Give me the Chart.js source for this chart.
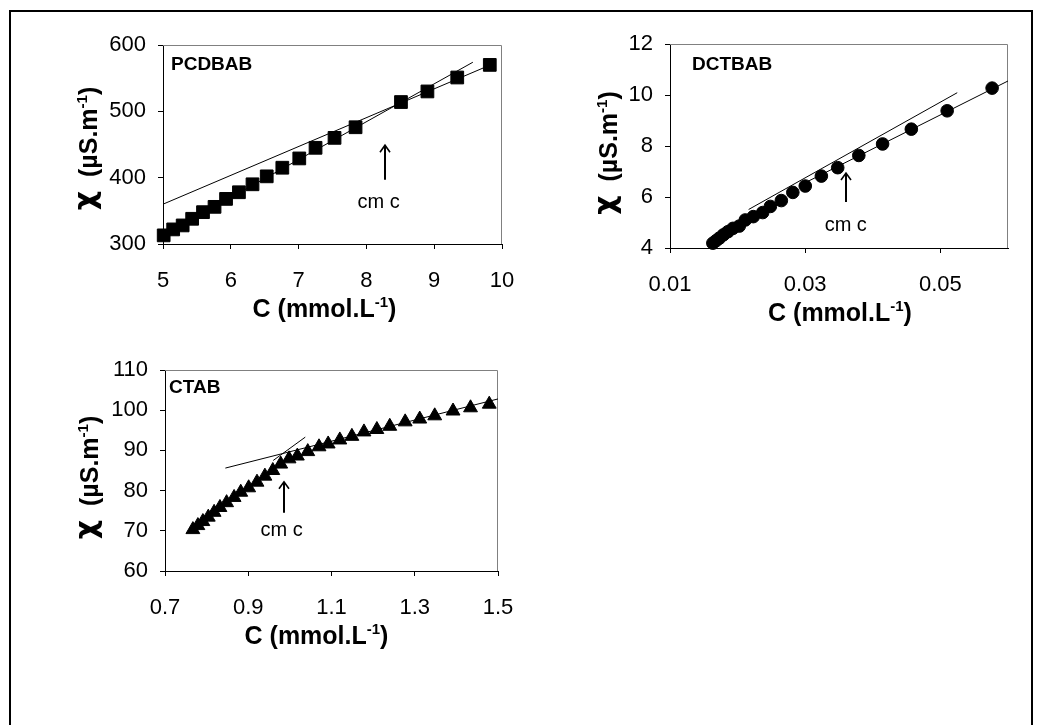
<!DOCTYPE html>
<html>
<head>
<meta charset="utf-8">
<script src="https://cdn.jsdelivr.net/npm/chart.js@4.4.0/dist/chart.umd.min.js"></script>
<style>
    html, body { margin: 0; padding: 0; background: #fff; }
    #page { position: relative; width: 1038px; height: 725px; overflow: hidden; background: #fff; }
    #frame { position: absolute; left: 9px; top: 10px; width: 1020px; height: 800px; border: 2px solid #000; }
    canvas { position: absolute; }
</style>
</head>
<body>
<div id="page">
    <div id="frame"></div>
    <canvas id="g-pcdbab" width="520" height="330" style="left:0;top:0"></canvas>
    <canvas id="g-dctbab" width="518" height="330" style="left:520px;top:0"></canvas>
    <canvas id="g-ctab" width="520" height="330" style="left:0;top:330px"></canvas>
</div>
<script>
// PCDBAB
var pcdC   = [5.01, 5.15, 5.29, 5.43, 5.59, 5.76, 5.93, 6.12, 6.32, 6.53, 6.76, 7.01, 7.25, 7.53, 7.84, 8.51, 8.90, 9.34, 9.82];
var pcdChi = [313, 322, 328, 338, 348, 356, 368, 378, 390, 402, 415, 429, 445, 460, 476, 514, 530, 551, 570];
var pcdPreC = [5.0, 9.57],  pcdPreChi = [313, 574];
var pcdPostC = [5.0, 9.83], pcdPostChi = [360, 570];
var pcdXTicks = [5, 6, 7, 8, 9, 10];
var pcdYTicks = [300, 400, 500, 600];
var pcdCmcX = 8.28, pcdArrowChi = [397, 449], pcdCmcText = [8.18, 363];

// DCTBAB
var dctC   = [0.01634, 0.01683, 0.01732, 0.01792, 0.01857, 0.01931, 0.02025, 0.02114, 0.02232, 0.02371, 0.02485,
              0.02647, 0.02817, 0.03001, 0.03239, 0.03481, 0.03793, 0.04145, 0.0457, 0.0510, 0.05765];
var dctChi = [4.19, 4.29, 4.39, 4.52, 4.64, 4.77, 4.86, 5.10, 5.23, 5.39, 5.63, 5.86, 6.18, 6.43, 6.82, 7.15,
              7.63, 8.08, 8.66, 9.38, 10.27];
var dctPreC = [0.02163, 0.05249], dctPreChi = [5.51, 10.09];
var dctPostC = [0.0300, 0.0600],  dctPostChi = [6.56, 10.55];
var dctXTicks = [0.01, 0.03, 0.05];
var dctYTicks = [4, 6, 8, 10, 12];
var dctCmcX = 0.0361, dctArrowChi = [5.80, 6.94], dctCmcText = [0.0360, 4.88];

// CTAB
var ctabC   = [0.767, 0.779, 0.791, 0.804, 0.818, 0.832, 0.848, 0.866, 0.882, 0.901, 0.921, 0.940, 0.959, 0.978, 0.998,
               1.018, 1.043, 1.070, 1.092, 1.120, 1.149, 1.178, 1.209, 1.240, 1.277, 1.312, 1.348, 1.392, 1.434, 1.479];
var ctabChi = [70.3, 71.3, 72.3, 73.4, 74.6, 75.8, 77.0, 78.3, 79.6, 80.7, 82.1, 83.6, 85.0, 86.6, 87.9,
               88.6, 89.7, 90.9, 91.6, 92.6, 93.5, 94.6, 95.2, 96.0, 97.1, 97.8, 98.6, 99.8, 100.6, 101.5];
var ctabPreC = [0.96, 1.037],  ctabPreChi = [87.5, 93.3];
var ctabPostC = [0.845, 1.5],  ctabPostChi = [85.6, 102.8];
var ctabXTicks = [0.7, 0.9, 1.1, 1.3, 1.5];
var ctabYTicks = [60, 70, 80, 90, 100, 110];
var ctabCmcX = 0.9856, ctabArrowChi = [74.5, 82.2], ctabCmcText = [0.98, 70.2];

(function () {
    'use strict';

    var FONT = '"Liberation Sans", Arial, Helvetica, sans-serif';

    function pairs(xs, ys) {
        return xs.map(function (x, i) { return { x: x, y: ys[i] }; });
    }

    // draws a run of text pieces (normal + superscript) centred on cx
    function drawRun(ctx, parts, cx, baseY) {
        var total = 0;
        parts.forEach(function (p) { ctx.font = p.font; p.w = ctx.measureText(p.t).width; total += p.w; });
        var x = cx - total / 2;
        ctx.textAlign = 'left';
        ctx.textBaseline = 'alphabetic';
        parts.forEach(function (p) {
            ctx.font = p.font;
            ctx.fillText(p.t, x, baseY + (p.dy || 0));
            x += p.w;
        });
    }

    var titleFont = 'bold 25px ' + FONT;
    var supFont = 'bold 15px ' + FONT;

    var decor = {
        id: 'decor',
        beforeDatasetsDraw: function (chart) {
            var a = chart.chartArea, ctx = chart.ctx;
            ctx.save();
            ctx.strokeStyle = '#808080';
            ctx.lineWidth = 1;
            ctx.beginPath();
            ctx.moveTo(a.left, a.top + 0.5);
            ctx.lineTo(a.right - 0.5, a.top + 0.5);
            ctx.lineTo(a.right - 0.5, a.bottom);
            ctx.stroke();
            ctx.restore();
        },
        afterDatasetsDraw: function (chart, args, o) {
            var ctx = chart.ctx, a = chart.chartArea;
            var xs = chart.scales.x, ys = chart.scales.y;
            ctx.save();
            ctx.fillStyle = '#000';
            ctx.strokeStyle = '#000';

            // sample name
            ctx.font = 'bold 19px ' + FONT;
            ctx.textAlign = 'left';
            ctx.textBaseline = 'middle';
            ctx.fillText(o.name, a.left + o.nameDx, a.top + o.nameDy);

            // cmc arrow + text
            var ax = Math.round(xs.getPixelForValue(o.cmcX));
            var yTail = ys.getPixelForValue(o.arrow[0]);
            var yTip = ys.getPixelForValue(o.arrow[1]);
            ctx.lineWidth = 2;
            ctx.beginPath();
            ctx.moveTo(ax, yTail);
            ctx.lineTo(ax, yTip + 1);
            ctx.stroke();
            ctx.lineWidth = 1.6;
            ctx.beginPath();
            ctx.moveTo(ax - 5, yTip + 7);
            ctx.lineTo(ax, yTip);
            ctx.lineTo(ax + 5, yTip + 7);
            ctx.stroke();
            ctx.font = '20px ' + FONT;
            ctx.textAlign = 'center';
            ctx.textBaseline = 'middle';
            ctx.fillText('cm c', xs.getPixelForValue(o.cmcText[0]), ys.getPixelForValue(o.cmcText[1]));

            // x title
            drawRun(ctx, [
                { t: 'C (mmol.L', font: titleFont },
                { t: '-1', font: supFont, dy: -10 },
                { t: ')', font: titleFont }
            ], (a.left + a.right) / 2 + o.xTitleDx, a.bottom + 73);

            // y title, rotated
            ctx.translate(o.yTitleX, (a.top + a.bottom) / 2 + o.yTitleDy);
            ctx.rotate(-Math.PI / 2);
            drawRun(ctx, [
                { t: '\u03c7', font: 'bold 30px "DejaVu Sans", sans-serif', dy: -2 },
                { t: '  (\u00b5S.m', font: titleFont },
                { t: '-1', font: supFont, dy: -10 },
                { t: ')', font: titleFont }
            ], 0, 0);
            ctx.restore();
        }
    };

    function makeChart(id, cfg) {
        var canvas = document.getElementById(id);
        var lineStyle = { showLine: true, borderColor: '#000', borderWidth: 1, pointRadius: 0, fill: false };
        return new Chart(canvas, {
            type: 'scatter',
            data: {
                datasets: [
                    Object.assign({ data: pairs(cfg.preC, cfg.preChi) }, lineStyle),
                    Object.assign({ data: pairs(cfg.postC, cfg.postChi) }, lineStyle),
                    {
                        data: pairs(cfg.c, cfg.chi),
                        pointStyle: cfg.marker,
                        pointRadius: cfg.radius,
                        backgroundColor: '#000',
                        borderColor: '#000',
                        borderWidth: 1,
                        showLine: false,
                        clip: false
                    }
                ]
            },
            options: {
                responsive: false,
                animation: false,
                events: [],
                layout: { padding: { top: cfg.pad.top, right: cfg.pad.right, left: 0, bottom: 0 } },
                plugins: {
                    legend: { display: false },
                    tooltip: { enabled: false },
                    decor: cfg.decor
                },
                scales: {
                    x: {
                        type: 'linear',
                        min: cfg.xMin,
                        max: cfg.xMax,
                        afterBuildTicks: function (s) { s.ticks = cfg.xTicks.map(function (v) { return { value: v }; }); },
                        afterFit: function (s) {
                            s.height = cfg.pad.xHeight;
                            s.paddingLeft = 0;
                            s.paddingRight = 0;
                        },
                        ticks: {
                            autoSkip: false, maxRotation: 0, padding: 19, color: '#000',
                            font: { family: FONT, size: 22 },
                            callback: function (v) { return v.toFixed(cfg.xDec); }
                        },
                        grid: { drawOnChartArea: false, drawTicks: true, tickLength: 5, color: '#000' },
                        border: { display: true, color: '#000', width: 1 }
                    },
                    y: {
                        type: 'linear',
                        min: cfg.yTicks[0],
                        max: cfg.yTicks[cfg.yTicks.length - 1],
                        afterBuildTicks: function (s) { s.ticks = cfg.yTicks.map(function (v) { return { value: v }; }); },
                        afterFit: function (s) {
                            s.width = cfg.pad.yWidth;
                            s.paddingTop = 0;
                            s.paddingBottom = 0;
                        },
                        ticks: {
                            padding: 12, color: '#000',
                            font: { family: FONT, size: 22 },
                            callback: function (v) { return String(v); }
                        },
                        grid: { drawOnChartArea: false, drawTicks: true, tickLength: 5, color: '#000' },
                        border: { display: true, color: '#000', width: 1 }
                    }
                }
            },
            plugins: [decor]
        });
    }

    function init() {
        if (typeof Chart === 'undefined') return;

        makeChart('g-pcdbab', {
            c: pcdC, chi: pcdChi, preC: pcdPreC, preChi: pcdPreChi, postC: pcdPostC, postChi: pcdPostChi,
            marker: 'rect', radius: 9,
            xMin: 5, xMax: 10, xTicks: pcdXTicks, xDec: 0, yTicks: pcdYTicks,
            pad: { top: 45, right: 18, yWidth: 163, xHeight: 86 },
            decor: { name: 'PCDBAB', nameDx: 8, nameDy: 20, cmcX: pcdCmcX, arrow: pcdArrowChi, cmcText: pcdCmcText,
                     xTitleDx: -8, yTitleX: 97, yTitleDy: 4 }
        });

        makeChart('g-dctbab', {
            c: dctC, chi: dctChi, preC: dctPreC, preChi: dctPreChi, postC: dctPostC, postChi: dctPostChi,
            marker: 'circle', radius: 6.3,
            xMin: 0.01, xMax: 0.06, xTicks: dctXTicks, xDec: 2, yTicks: dctYTicks,
            pad: { top: 44, right: 30, yWidth: 150, xHeight: 82 },
            decor: { name: 'DCTBAB', nameDx: 22, nameDy: 21, cmcX: dctCmcX, arrow: dctArrowChi, cmcText: dctCmcText,
                     xTitleDx: 1, yTitleX: 97, yTitleDy: 7 }
        });

        makeChart('g-ctab', {
            c: ctabC, chi: ctabChi, preC: ctabPreC, preChi: ctabPreChi, postC: ctabPostC, postChi: ctabPostChi,
            marker: 'triangle', radius: 8,
            xMin: 0.7, xMax: 1.5, xTicks: ctabXTicks, xDec: 1, yTicks: ctabYTicks,
            pad: { top: 40, right: 22, yWidth: 165, xHeight: 89 },
            decor: { name: 'CTAB', nameDx: 4, nameDy: 18, cmcX: ctabCmcX, arrow: ctabArrowChi, cmcText: ctabCmcText,
                     xTitleDx: -15, yTitleX: 98, yTitleDy: 7 }
        });
    }

    if (document.readyState === 'loading') {
        document.addEventListener('DOMContentLoaded', init);
    } else {
        init();
    }
})();
</script>
</body>
</html>
